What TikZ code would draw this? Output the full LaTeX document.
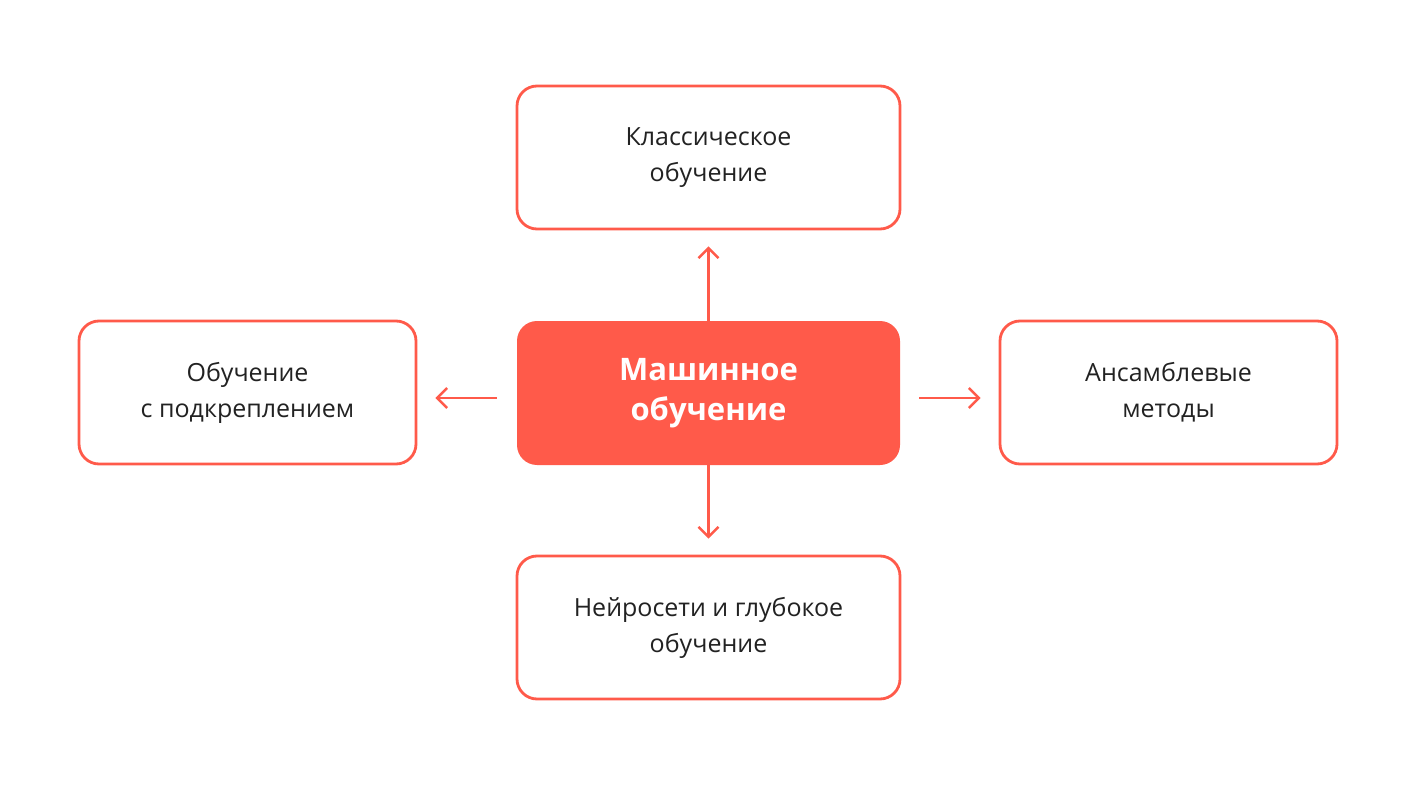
\documentclass[tikz,border=0pt]{standalone}
\usepackage{fontspec}
\setmainfont{Open Sans}
\usetikzlibrary{arrows.meta}
\definecolor{accent}{HTML}{FF5A4A}
\definecolor{txt}{HTML}{222222}
\begin{document}
\begin{tikzpicture}[x=0.5pt,y=-0.5pt,
  box/.style={draw=accent,line width=1.4pt,rounded corners=10pt,fill=white,text=txt,align=center,font=\fontsize{12.5}{18}\selectfont,inner sep=0pt},
  mainbox/.style={fill=accent,rounded corners=10pt,text=white,align=center,font=\bfseries\fontsize{15.5}{20}\selectfont,inner sep=0pt,minimum width=383*0.5pt,minimum height=144*0.5pt},
  conn/.style={draw=accent,line width=1.2pt,-{Straight Barb[length=5pt,width=10pt]}}]
\useasboundingbox (0,0) rectangle (1418,786);
\node[mainbox] (m) at (708.5,393) {Машинное\\обучение};
\node[box,minimum width=383*0.5pt,minimum height=143*0.5pt] (t) at (708.5,157.5) {Классическое\\обучение};
\node[box,minimum width=383*0.5pt,minimum height=143*0.5pt] (b) at (708.5,627.5) {Нейросети и глубокое\\обучение};
\node[box,minimum width=337*0.5pt,minimum height=143*0.5pt] (l) at (247.5,392.5) {Обучение\\с подкреплением};
\node[box,minimum width=337*0.5pt,minimum height=143*0.5pt] (r) at (1168.5,392.5) {Ансамблевые\\методы};
\draw[conn] ([yshift=-37*0.5pt]m.north) -- ([yshift=-16*0.5pt]t.south);
\draw[conn] ([yshift=15*0.5pt]m.south) -- ([yshift=16*0.5pt]b.north);
\draw[conn] ([xshift=-20*0.5pt,yshift=-5*0.5pt]m.west) -- ([xshift=18*0.5pt,yshift=-5.5*0.5pt]l.east);
\draw[conn] ([xshift=19*0.5pt,yshift=-5*0.5pt]m.east) -- ([xshift=-18*0.5pt,yshift=-5.5*0.5pt]r.west);
\end{tikzpicture}
\end{document}
